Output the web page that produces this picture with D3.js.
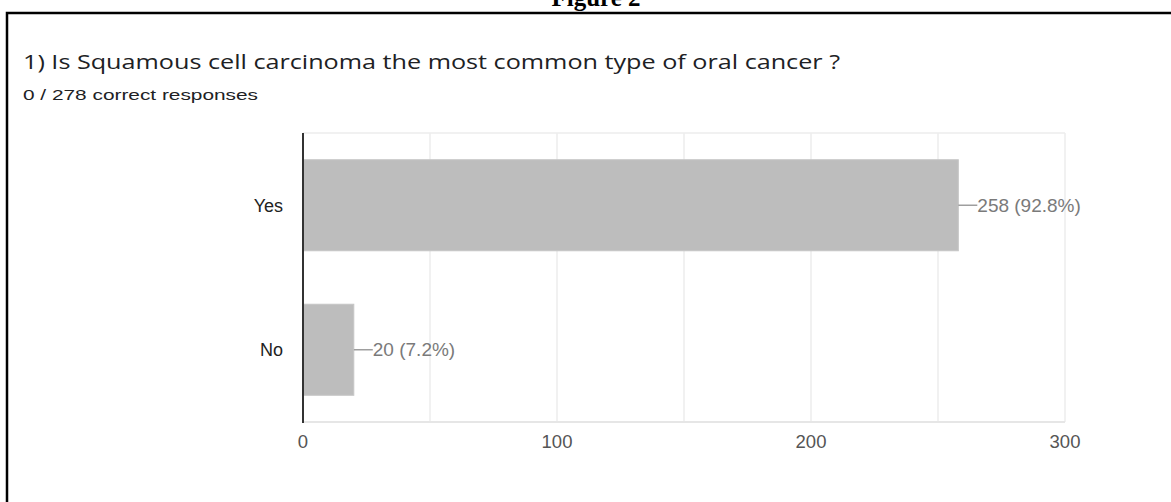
<!DOCTYPE html>
<html>
<head>
<meta charset="utf-8">
<script src="https://cdn.jsdelivr.net/npm/d3@7"></script>
<style>
  html, body { margin: 0; padding: 0; background: #fff; }
  svg { display: block; }
</style>
</head>
<body>
<div id="chart"></div>
<script>
const width = 1171;
const height = 502;

const figureLabel = "Figure 2";
const question = "1) Is Squamous cell carcinoma the most common type of oral cancer ?";
const correctCount = 0;
const totalResponses = 278;

const categories = ["Yes", "No"];
const counts = [258, 20];
const percents = [92.8, 7.2];

const xDomain = [0, 300];
const xTicks = [0, 100, 200, 300];
const gridStep = 50;

const plot = { left: 303, right: 1065, top: 133, bottom: 422 };
const labelFont = "Liberation Sans, Arial, Helvetica, sans-serif";

const svg = d3.select("#chart").append("svg")
    .attr("width", width)
    .attr("height", height);

// page frame + caption (caption is clipped at the top, as in the source)
svg.append("text")
    .attr("x", 596)
    .attr("y", 6)
    .attr("text-anchor", "middle")
    .attr("font-family", "Liberation Serif, Times New Roman, serif")
    .attr("font-weight", "bold")
    .attr("font-size", 25)
    .text(figureLabel);

svg.append("path")
    .attr("d", `M7,${height + 5}V13H${width + 5}`)
    .attr("fill", "none")
    .attr("stroke", "#000")
    .attr("stroke-width", 2.5);

svg.append("text")
    .attr("x", 23)
    .attr("y", 69)
    .attr("font-family", "Open Sans, sans-serif")
    .attr("font-size", 20)
    .attr("fill", "#202124")
    .attr("textLength", 817)
    .attr("lengthAdjust", "spacingAndGlyphs")
    .text(question);

svg.append("text")
    .attr("x", 23)
    .attr("y", 100)
    .attr("font-family", labelFont)
    .attr("font-size", 15)
    .attr("fill", "#202124")
    .attr("textLength", 235)
    .attr("lengthAdjust", "spacingAndGlyphs")
    .text(`${correctCount} / ${totalResponses} correct responses`);

const x = d3.scaleLinear()
    .domain(xDomain)
    .range([plot.left, plot.right]);

const y = d3.scaleBand()
    .domain(categories)
    .range([plot.top, plot.bottom])
    .paddingInner(0.37)
    .paddingOuter(0.185);

// gridlines
const gridVals = d3.range(xDomain[0], xDomain[1] + 1, gridStep);
svg.append("g")
    .selectAll("line")
    .data(gridVals)
    .join("line")
    .attr("x1", d => x(d))
    .attr("x2", d => x(d))
    .attr("y1", plot.top)
    .attr("y2", plot.bottom)
    .attr("stroke", "#ececec")
    .attr("stroke-width", 1.5);

svg.append("line")
    .attr("x1", plot.left).attr("x2", plot.right)
    .attr("y1", plot.top).attr("y2", plot.top)
    .attr("stroke", "#ececec").attr("stroke-width", 1.5);
svg.append("line")
    .attr("x1", plot.left).attr("x2", plot.right)
    .attr("y1", plot.bottom).attr("y2", plot.bottom)
    .attr("stroke", "#e6e6e6").attr("stroke-width", 2);

// bars
svg.append("g")
    .selectAll("rect")
    .data(categories)
    .join("rect")
    .attr("x", x(0))
    .attr("y", d => y(d))
    .attr("width", (d, i) => x(counts[i]) - x(0))
    .attr("height", y.bandwidth())
    .attr("fill", "#bdbdbd")
    .attr("stroke", "#c6c6c6")
    .attr("stroke-width", 1);

// value labels with leader line
const valueG = svg.append("g");
categories.forEach((c, i) => {
    const cy = y(c) + y.bandwidth() / 2;
    const x0 = x(counts[i]);
    valueG.append("line")
        .attr("x1", x0).attr("x2", x0 + 19)
        .attr("y1", cy).attr("y2", cy)
        .attr("stroke", "#9e9e9e")
        .attr("stroke-width", 1.5);
    valueG.append("text")
        .attr("x", x0 + 19)
        .attr("y", cy)
        .attr("dy", "0.35em")
        .attr("font-family", labelFont)
        .attr("font-size", 19)
        .attr("fill", "#7a7a7a")
        .text(`${counts[i]} (${percents[i]}%)`);
});

// left axis line
svg.append("line")
    .attr("x1", plot.left).attr("x2", plot.left)
    .attr("y1", plot.top).attr("y2", plot.bottom + 1)
    .attr("stroke", "#333")
    .attr("stroke-width", 2);

// category labels
svg.append("g")
    .selectAll("text")
    .data(categories)
    .join("text")
    .attr("x", plot.left - 20)
    .attr("y", d => y(d) + y.bandwidth() / 2)
    .attr("dy", "0.35em")
    .attr("text-anchor", "end")
    .attr("font-family", labelFont)
    .attr("font-size", 18)
    .attr("fill", "#222")
    .text(d => d);

// x tick labels
svg.append("g")
    .selectAll("text")
    .data(xTicks)
    .join("text")
    .attr("x", d => x(d))
    .attr("y", 442)
    .attr("dy", "0.35em")
    .attr("text-anchor", "middle")
    .attr("font-family", labelFont)
    .attr("font-size", 18.5)
    .attr("fill", "#555")
    .text(d => d);
</script>
</body>
</html>
